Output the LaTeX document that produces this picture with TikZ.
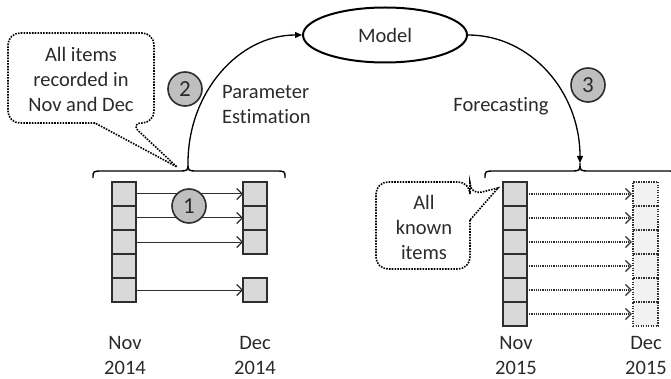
\documentclass[tikz,border=0pt]{standalone}
\usepackage{fontspec}
\setmainfont{Carlito}[Ligatures=NoCommon]
\usetikzlibrary{arrows.meta,shapes.geometric}
\definecolor{txt}{HTML}{2A2A2A}
\definecolor{boxfill}{HTML}{D9D9D9}
\definecolor{circfill}{HTML}{BFBFBF}
\definecolor{ghost}{HTML}{F2F2F2}
\definecolor{lne}{HTML}{2E2E2E}
\tikzset{
  lbl/.style={font=\fontsize{20.5}{25}\selectfont, text=txt, align=center, inner sep=0pt},
  cell/.style={draw=lne, line width=1.5pt, fill=boxfill, minimum width=24pt, minimum height=24pt, inner sep=0pt, outer sep=0pt},
  ghostcell/.style={draw=lne, line width=1.4pt, dash pattern=on 1.4pt off 1.1pt, fill=ghost, minimum width=25pt, minimum height=24pt, inner sep=0pt, outer sep=0pt},
  numcirc/.style={circle, draw=lne, line width=1.6pt, fill=circfill, minimum size=34pt, inner sep=0pt, font=\fontsize{23}{25}\selectfont, text=txt},
  flow/.style={draw=lne, line width=1pt, -{Straight Barb[length=5.5pt,width=11pt,line width=1.1pt]}},
  dflow/.style={draw=lne, line width=1.2pt, dash pattern=on 1.2pt off 1pt, -{Straight Barb[length=5.5pt,width=11pt,line width=1.1pt,sep]}},
  bigarrow/.style={draw=black, line width=1.3pt, -{Triangle[length=7pt,width=6pt]}},
  callout/.style={draw=black, line width=1.6pt, dash pattern=on 1.6pt off 1.2pt},
  bracestyle/.style={draw=black, line width=1.4pt},
}
\begin{document}
\begin{tikzpicture}[x=1pt,y=-1pt]
\useasboundingbox (0,0) rectangle (671,379);

% Model
\node[ellipse, draw=black, line width=2pt, minimum width=164pt, minimum height=55pt, inner sep=0pt, lbl] (model) at (385,35) {Model};

% braces
\coordinate (ltip) at (188,163);
\coordinate (rtip) at (580,163);
\draw[bracestyle] (93,178) .. controls (93,171) .. (103,171) -- (178,171) .. controls (188,171) .. (ltip) .. controls (188,171) .. (198,171) -- (275,171) .. controls (285,171) .. (285,178);
\draw[bracestyle] (485,178) .. controls (485,171) .. (495,171) -- (570,171) .. controls (580,171) .. (rtip) .. controls (580,171) .. (590,171) -- (666,171) .. controls (676,171) .. (676,178);

% curved arrows
\draw[bigarrow] (ltip) .. controls +(0,-71) and +(-63,0) .. (model.west);
\draw[bigarrow] (model.east) .. controls +(62,0) and +(0,-72) .. (rtip);

% left stacks
\foreach \i in {1,...,5} { \node[cell] (L\i) at (124,170+24*\i) {}; }
\foreach \i in {1,2,3,5} { \node[cell] (D\i) at (255,170+24*\i) {}; }
\foreach \i in {1,2,3,5} { \draw[flow] (L\i.east) -- (D\i.west); }

% right stacks
\foreach \i in {1,...,6} { \node[cell] (N\i) at (515,170+24*\i) {}; }
\foreach \i in {1,...,6} { \node[ghostcell] (G\i) at (645.5,170+24*\i) {}; }
\foreach \i in {1,...,6} { \draw[dflow] (N\i.east) -- (G\i.west); }

% circles
\node[numcirc] (c1) at (189,206) {1};
\node[numcirc] (c2) at (185,89) {2};
\node[numcirc] (c3) at (588,85) {3};

% labels
\node[lbl, align=left, anchor=west] (pe) at (222,105) {Parameter\\Estimation};
\node[lbl] (fc) at (501,106) {Forecasting};
\node[lbl] (nov14) at (125,355) {Nov\\2014};
\node[lbl] (dec14) at (255,355) {Dec\\2014};
\node[lbl] (nov15) at (516,355) {Nov\\2015};
\node[lbl] (dec15) at (646,355) {Dec\\2015};

% callouts
\node[lbl] (co1) at (81,79) {All items\\recorded in\\Nov and Dec};
\draw[callout] (95,123) [rounded corners=12pt] -| (8,33) -| (154,123) -- (130,123) [sharp corners] -- (177,167) -- cycle;
\node[lbl] (co2) at (424,227) {All\\known\\items};
\draw[callout] (470,220) [rounded corners=12pt] |- (376,269) |- (470,182) -- (470,195) [sharp corners] -- (498,188) -- cycle;
\end{tikzpicture}
\end{document}
